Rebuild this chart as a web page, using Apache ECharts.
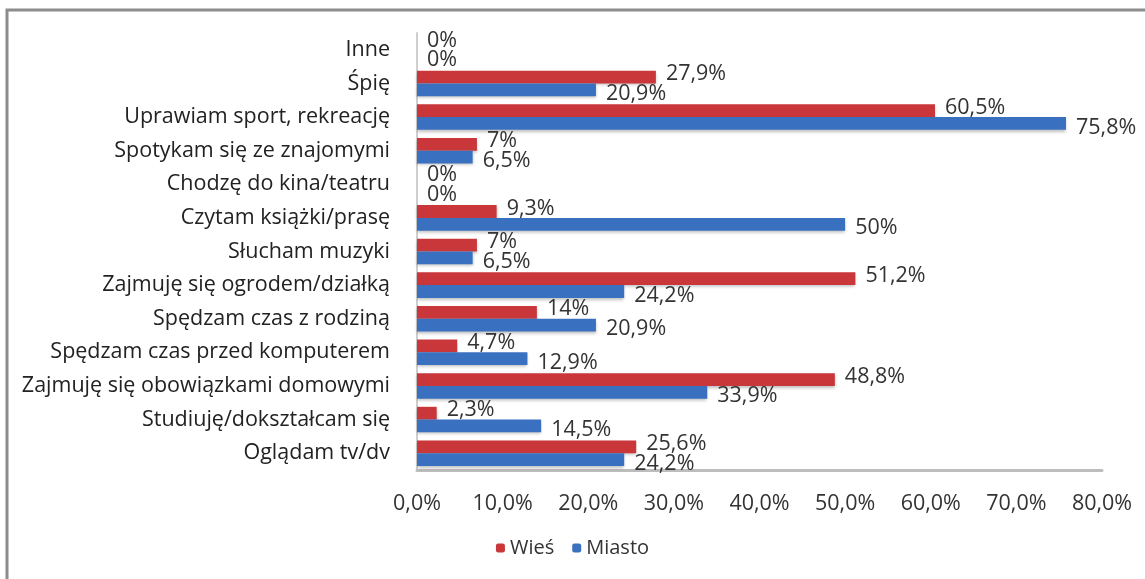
<!DOCTYPE html>
<html><head><meta charset="utf-8">
<script src="https://cdn.jsdelivr.net/npm/echarts@6/dist/echarts.min.js"></script>
<style>html,body{margin:0;padding:0;background:#fff}#c{width:1145px;height:579px}</style>
</head><body><div id="c"></div>
<script>
const categories = ["Inne","Śpię","Uprawiam sport, rekreację","Spotykam się ze znajomymi","Chodzę do kina/teatru","Czytam książki/prasę","Słucham muzyki","Zajmuję się ogrodem/działką","Spędzam czas z rodziną","Spędzam czas przed komputerem","Zajmuję się obowiązkami domowymi","Studiuję/dokształcam się","Oglądam tv/dv"];
const wies = [0,27.9,60.5,7,0,9.3,7,51.2,14,4.7,48.8,2.3,25.6];
const miasto = [0,20.9,75.8,6.5,0,50,6.5,24.2,20.9,12.9,33.9,14.5,24.2];
const seriesNames = ["Wieś","Miasto"];
const xTicks = {min:0,max:80,interval:10};

const FONT = "Open Sans";
const fmtVal = v => String(v).replace('.', ',') + '%';
const chart = echarts.init(document.getElementById('c'));
const shadow = {shadowColor:'rgba(0,0,0,0.25)',shadowBlur:3,shadowOffsetY:2};
chart.setOption({
  animation:false,
  textStyle:{fontFamily:FONT},
  graphic:[{type:'rect',shape:{x:7,y:10,width:1160,height:600},style:{fill:'none',stroke:'#8c8c8c',lineWidth:3}}],
  grid:{left:417,right:43,top:33,bottom:109,containLabel:false},
  legend:{bottom:16,left:'center',itemWidth:9,itemHeight:9,itemGap:18,
    textStyle:{fontFamily:FONT,fontSize:20,color:'#333'},data:seriesNames},
  xAxis:{type:'value',min:xTicks.min,max:xTicks.max,interval:xTicks.interval,
    axisLine:{show:true,lineStyle:{color:'#bdbdbd',width:3}},axisTick:{show:false},splitLine:{show:false},
    axisLabel:{margin:23,fontSize:21.5,color:'#333',fontFamily:FONT,formatter:v=>v.toFixed(1).replace('.',',')+'%'}},
  yAxis:{type:'category',data:categories,inverse:true,
    axisLine:{show:true,lineStyle:{color:'#cfcfcf',width:2}},axisTick:{show:false},
    axisLabel:{margin:27,fontSize:21.5,color:'#222',fontFamily:FONT}},
  series:[
    {name:seriesNames[0],type:'bar',data:wies,barGap:'0%',barCategoryGap:'24%',
     itemStyle:Object.assign({color:'#C9373A'},shadow),
     label:{show:true,position:'right',distance:10,offset:[0,-3],fontSize:21.5,color:'#333',fontFamily:FONT,formatter:p=>fmtVal(p.value)}},
    {name:seriesNames[1],type:'bar',data:miasto,barGap:'0%',barCategoryGap:'24%',
     itemStyle:Object.assign({color:'#3A70C0'},shadow),
     label:{show:true,position:'right',distance:10,offset:[0,4],fontSize:21.5,color:'#333',fontFamily:FONT,formatter:p=>fmtVal(p.value)}}
  ]
});
</script></body></html>
